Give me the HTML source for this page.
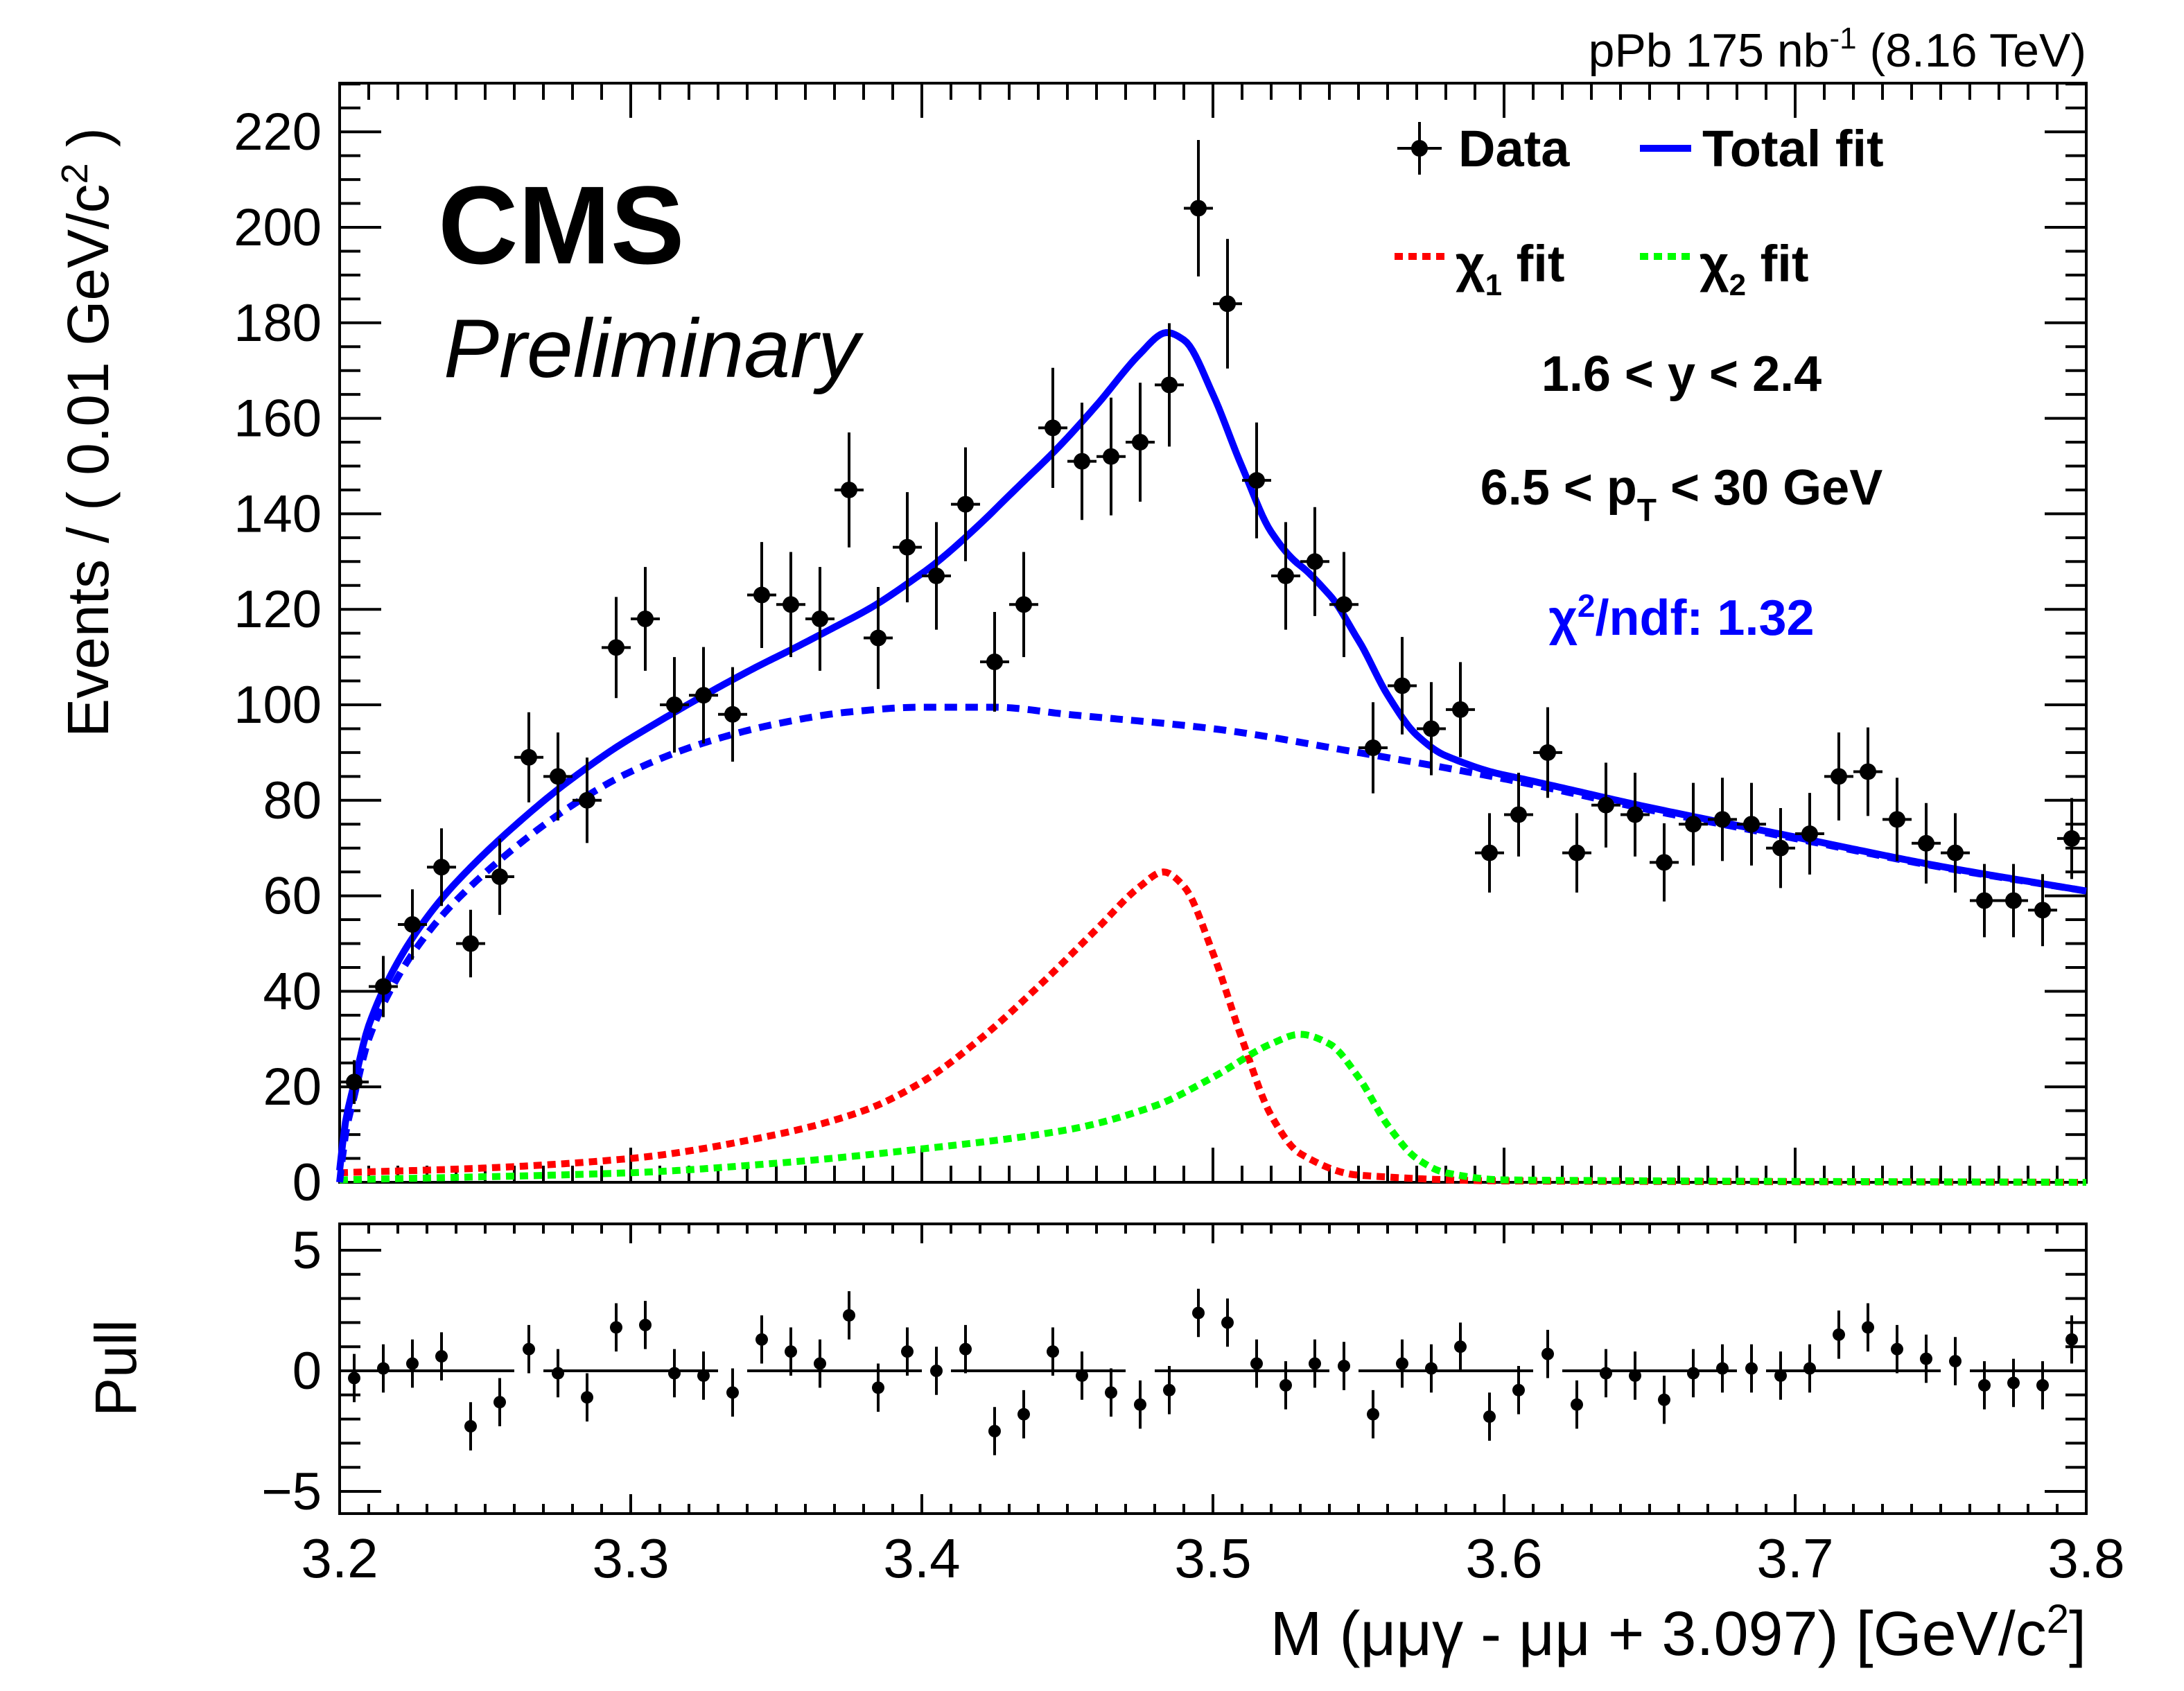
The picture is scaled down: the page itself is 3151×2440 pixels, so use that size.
<!DOCTYPE html>
<html><head><meta charset="utf-8"><style>
html,body{margin:0;padding:0;background:#fff}
svg{display:block}
text{font-family:"Liberation Sans",Arial,sans-serif}
</style></head><body>
<svg id="chart" width="3151" height="2440" viewBox="0 0 1575.5 1220" xmlns="http://www.w3.org/2000/svg">
<rect x="0" y="0" width="1575.5" height="1220" fill="#fff"/>
<g id="main"></g>
<g id="pull"></g>
<text x="1505" y="48" text-anchor="end" font-size="34">pPb 175 nb<tspan font-size="22" dy="-13">-1</tspan><tspan dy="13"> (8.16 TeV)</tspan></text>
<text x="316" y="190" font-size="80" font-weight="bold">CMS</text>
<text x="320" y="272" font-size="60" font-style="italic">Preliminary</text>
<text x="1213" y="282" text-anchor="middle" font-size="36" font-weight="bold">1.6 &lt; y &lt; 2.4</text>
<text x="1213" y="364" text-anchor="middle" font-size="36" font-weight="bold">6.5 &lt; p<tspan font-size="23" dy="12">T</tspan><tspan dy="-12"> &lt; 30 GeV</tspan></text>
<text x="1213" y="458" text-anchor="middle" font-size="36" font-weight="bold" fill="#0000ff">χ<tspan font-size="23" dy="-13">2</tspan><tspan dy="13">/ndf: 1.32</tspan></text>
<g>
 <line x1="1008" y1="107" x2="1040" y2="107" stroke="#000" stroke-width="2"/>
 <line x1="1024" y1="88" x2="1024" y2="126" stroke="#000" stroke-width="2"/>
 <circle cx="1024" cy="107" r="6" fill="#000"/>
 <text x="1052" y="120" font-size="37" font-weight="bold">Data</text>
 <line x1="1183" y1="107" x2="1220" y2="107" stroke="#0000ff" stroke-width="5"/>
 <text x="1228" y="120" font-size="37" font-weight="bold">Total fit</text>
 <line x1="1006" y1="185" x2="1045" y2="185" stroke="#ff0000" stroke-width="5" stroke-dasharray="6 4"/>
 <text x="1050" y="203" font-size="37" font-weight="bold">χ<tspan font-size="22" dy="10">1</tspan><tspan dy="-10"> fit</tspan></text>
 <line x1="1183" y1="185" x2="1222" y2="185" stroke="#00ff00" stroke-width="5" stroke-dasharray="6 4"/>
 <text x="1226" y="203" font-size="37" font-weight="bold">χ<tspan font-size="22" dy="10">2</tspan><tspan dy="-10"> fit</tspan></text>
</g>
<text transform="translate(78,312) rotate(-90)" text-anchor="middle" font-size="42">Events / ( 0.01 GeV/c<tspan font-size="27" dy="-15">2</tspan><tspan dy="15"> )</tspan></text>
<text transform="translate(98,987) rotate(-90)" text-anchor="middle" font-size="42">Pull</text>
<text x="1505" y="1194" text-anchor="end" font-size="45">M (μμγ - μμ + 3.097) [GeV/c<tspan font-size="29" dy="-16">2</tspan><tspan dy="16">]</tspan></text>
</svg>
<script>
const binCenters=[3.205,3.215,3.225,3.235,3.245,3.255,3.265,3.275,3.285,3.295,3.305,3.315,3.325,3.335,3.345,3.355,3.365,3.375,3.385,3.395,3.405,3.415,3.425,3.435,3.445,3.455,3.465,3.475,3.485,3.495,3.505,3.515,3.525,3.535,3.545,3.555,3.565,3.575,3.585,3.595,3.605,3.615,3.625,3.635,3.645,3.655,3.665,3.675,3.685,3.695,3.705,3.715,3.725,3.735,3.745,3.755,3.765,3.775,3.785,3.795];
const counts=[21,41,54,66,50,64,89,85,80,112,118,100,102,98,123,121,118,145,114,133,127,142,109,121,158,151,152,155,167,204,184,147,127,130,121,91,104,95,99,69,77,90,69,79,77,67,75,76,75,70,73,85,86,76,71,69,59,59,57,72];
const pulls=[-0.3,0.1,0.3,0.6,-2.3,-1.3,0.9,-0.1,-1.1,1.8,1.9,-0.1,-0.2,-0.9,1.3,0.8,0.3,2.3,-0.7,0.8,0,0.9,-2.5,-1.8,0.8,-0.2,-0.9,-1.4,-0.8,2.4,2.0,0.3,-0.6,0.3,0.2,-1.8,0.3,0.1,1.0,-1.9,-0.8,0.7,-1.4,-0.1,-0.2,-1.2,-0.1,0.1,0.1,-0.2,0.1,1.5,1.8,0.9,0.5,0.4,-0.6,-0.5,-0.6,1.3];
const bgX=[3.2,3.202,3.205,3.21,3.22,3.23,3.24,3.26,3.28,3.30,3.325,3.35,3.375,3.40,3.425,3.45,3.50,3.55,3.60,3.65,3.70,3.75,3.80];
const bgY=[0,10,18,30,43,52,59,70,79,86,92,96,98.5,99.5,99.5,98,95,90,84.5,78,72,66,61];
const c1X=[3.2,3.25,3.30,3.35,3.38,3.40,3.42,3.44,3.46,3.475,3.483,3.49,3.50,3.51,3.52,3.53,3.55,3.60,3.80];
const c1Y=[2,3,5,10,15,21,30,41,53,62,65,62,48,30,14,6,1.5,0.3,0];
const c2X=[3.2,3.30,3.35,3.40,3.45,3.48,3.50,3.52,3.53,3.54,3.55,3.56,3.57,3.58,3.60,3.80];
const c2Y=[0.5,2,4,7,11,16,22,29,31,29,22,12,5,2,0.5,0];
const yTicks=[0,20,40,60,80,100,120,140,160,180,200,220];
const pullTicks=[5,0,-5];
const xTicks=[3.2,3.3,3.4,3.5,3.6,3.7,3.8];

const NS="http://www.w3.org/2000/svg";
const X0=245,X1=1505,MT=60,MB=853,PT=883,PB=1092;
const sx=v=>X0+(v-3.2)/0.6*(X1-X0);
const sy=v=>MB-v*3.445;
const sp=v=>989-v*17.4;
function mk(parent,tag,attrs){const e=document.createElementNS(NS,tag);for(const k in attrs)e.setAttribute(k,attrs[k]);parent.appendChild(e);return e;}
function interp(xs,ys,x){
  const n=xs.length;if(x<=xs[0])return ys[0];if(x>=xs[n-1])return ys[n-1];
  let i=1;while(x>xs[i])i++;i--;
  const d=[],m=[];for(let k=0;k<n-1;k++)d.push((ys[k+1]-ys[k])/(xs[k+1]-xs[k]));
  for(let k=0;k<n;k++){if(k==0)m.push(d[0]);else if(k==n-1)m.push(d[n-2]);else m.push(d[k-1]*d[k]<=0?0:2/(1/d[k-1]+1/d[k]));}
  const h=xs[i+1]-xs[i],t=(x-xs[i])/h;
  const h00=2*t*t*t-3*t*t+1,h10=t*t*t-2*t*t+t,h01=-2*t*t*t+3*t*t,h11=t*t*t-t*t;
  return h00*ys[i]+h10*h*m[i]+h01*ys[i+1]+h11*h*m[i+1];
}
const main=document.getElementById('main'),pull=document.getElementById('pull');

function frame(g,top,bot){
  const r=mk(g,'rect',{x:X0,y:top,width:X1-X0,height:bot-top,fill:'none',stroke:'#000','stroke-width':2});
  
  
  for(let i=0;i<=60;i++){const v=3.2+i*0.01;const L=(i%10==0)?(bot-top>300?25:14):(bot-top>300?12:7);
    mk(g,'line',{x1:sx(v),x2:sx(v),y1:bot,y2:bot-L,stroke:'#000','stroke-width':2});
    mk(g,'line',{x1:sx(v),x2:sx(v),y1:top,y2:top+L,stroke:'#000','stroke-width':2});}
}
frame(main,MT,MB);frame(pull,PT,PB);

for(let v=0;v<=230;v+=5){const L=(v%20==0)?30:15;const y=sy(v);if(y<MT)break;
  mk(main,'line',{x1:X0,x2:X0+L,y1:y,y2:y,stroke:'#000','stroke-width':2});
  mk(main,'line',{x1:X1,x2:X1-L,y1:y,y2:y,stroke:'#000','stroke-width':2});}
yTicks.forEach(v=>{const t=mk(main,'text',{x:232,y:sy(v)+13,'text-anchor':'end','font-size':38});t.textContent=v;
  
  });
for(let v=-5;v<=5;v++){const L=(v%5==0)?30:15;const y=sp(v);
  mk(pull,'line',{x1:X0,x2:X0+L,y1:y,y2:y,stroke:'#000','stroke-width':2});
  mk(pull,'line',{x1:X1,x2:X1-L,y1:y,y2:y,stroke:'#000','stroke-width':2});}
pullTicks.forEach(v=>{const t=mk(pull,'text',{x:232,y:sp(v)+13,'text-anchor':'end','font-size':38});t.textContent=v<0?'\u2212'+(-v):v;
  
  });
xTicks.forEach(v=>{const t=mk(pull,'text',{x:sx(v),y:1138,'text-anchor':'middle','font-size':40});t.textContent=v.toFixed(1);
  
  });

function curve(fn,color,dash,name){let d='';for(let i=0;i<=600;i++){const x=3.2+i*0.001;d+=(i?'L':'M')+sx(x).toFixed(2)+','+sy(fn(x)).toFixed(2);}
  const p=mk(main,'path',{d:d,fill:'none',stroke:color,'stroke-width':5});if(dash)p.setAttribute('stroke-dasharray',dash);
  
  }
const bg=x=>interp(bgX,bgY,x),f1=x=>interp(c1X,c1Y,x),f2=x=>interp(c2X,c2Y,x);
curve(f1,'#ff0000','6 4','chi1-fit-curve');
curve(f2,'#00ff00','6 4','chi2-fit-curve');
curve(bg,'#0000ff','9 6','background-curve');
curve(x=>bg(x)+f1(x)+f2(x),'#0000ff',null,'total-fit-curve');

binCenters.forEach((c,i)=>{const n=counts[i],e=Math.sqrt(n);const g=mk(main,'g',{});
  
  
  mk(g,'line',{x1:sx(c-0.005),x2:sx(c+0.005),y1:sy(n),y2:sy(n),stroke:'#000','stroke-width':2});
  mk(g,'line',{x1:sx(c),x2:sx(c),y1:sy(n-e),y2:sy(n+e),stroke:'#000','stroke-width':2});
  mk(g,'circle',{cx:sx(c),cy:sy(n),r:6,fill:'#000'});});
pulls.forEach((p,i)=>{const c=binCenters[i];const g=mk(pull,'g',{});
  
  
  if(i%7!=6) mk(g,'line',{x1:sx(c-0.005),x2:sx(c+0.005),y1:sp(0),y2:sp(0),stroke:'#000','stroke-width':2});
  mk(g,'line',{x1:sx(c),x2:sx(c),y1:sp(p-1),y2:sp(p+1),stroke:'#000','stroke-width':2});
  mk(g,'circle',{cx:sx(c),cy:sp(p),r:4.5,fill:'#000'});});
</script>
</body></html>
